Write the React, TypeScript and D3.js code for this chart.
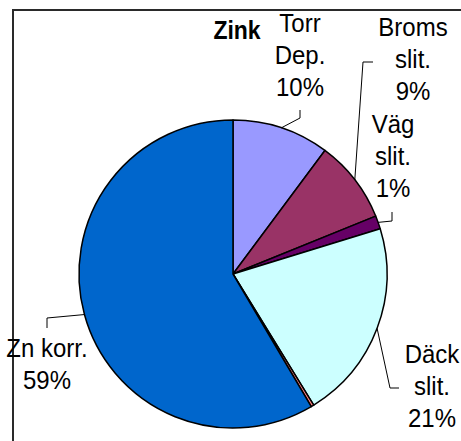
import React, { useEffect, useRef } from 'react';
import * as d3 from 'd3';

// slices clockwise from 12 o'clock
const categories = ['Torr Dep.', 'Broms slit.', 'Väg slit.', 'Däck slit.', 'Övrigt', 'Zn korr.'];
const shares = [10.2, 8.7, 1.4, 21.0, 0.3, 58.6];
const sliceColors = ['#9999FF', '#993366', '#660066', '#CCFFFF', '#FF8080', '#0066CC'];
const labelLines = [
  ['Torr', 'Dep.', '10%'],
  ['Broms', 'slit.', '9%'],
  ['Väg', 'slit.', '1%'],
  ['Däck', 'slit.', '21%'],
  [],
  ['Zn korr.', '59%'],
];

// label layout: text centre x, first baseline y, leader elbow + end
const labelLayout = [
  { x: 300, y: 32, elbow: [300, 118], end: [300, 110] },
  { x: 413, y: 36, elbow: [363, 62], end: [373, 62] },
  { x: 393, y: 133, elbow: [392, 221], end: [392, 212] },
  { x: 432, y: 363, elbow: [390, 388], end: [399, 388] },
  null,
  { x: 47, y: 357, elbow: [47, 318], end: [47, 328] },
];

const App: React.FC = () => {
  const svgRef = useRef<SVGSVGElement>(null);

  useEffect(() => {
    if (!svgRef.current) return;
    const width = 461;
    const height = 441;
    const cx = 233;
    const cy = 274;
    const r = 154;
    const lineH = 32;
    const stretch = 1.1;

    const svg = d3.select(svgRef.current);
    svg.selectAll('*').remove();
    svg.attr('width', width).attr('height', height);

    svg.append('rect').attr('width', width).attr('height', height).attr('fill', '#ffffff');

    // chart frame (clipped at right / bottom)
    svg.append('path')
      .attr('d', `M13,${height + 5} L13,10 L${width + 5},10`)
      .attr('fill', 'none')
      .attr('stroke', '#2a2a2a')
      .attr('stroke-width', 2);

    const data = categories.map((c, i) => ({ cat: c, value: shares[i], i }));

    const pie = d3.pie<{ cat: string; value: number; i: number }>()
      .sort(null)
      .value(d => d.value)
      .startAngle(0)
      .endAngle(2 * Math.PI);

    const arc = d3.arc<d3.PieArcDatum<{ cat: string; value: number; i: number }>>()
      .innerRadius(0)
      .outerRadius(r);

    const arcs = pie(data);

    const g = svg.append('g').attr('transform', `translate(${cx},${cy})`);

    g.selectAll('path.slice')
      .data(arcs)
      .join('path')
      .attr('class', 'slice')
      .attr('d', arc)
      .attr('fill', d => sliceColors[d.data.i])
      .attr('stroke', '#000000')
      .attr('stroke-width', 1.5)
      .attr('stroke-linejoin', 'round');

    // leader lines from slice mid-angle on the rim
    arcs.forEach(a => {
      const lay = labelLayout[a.data.i];
      if (!lay) return;
      const mid = (a.startAngle + a.endAngle) / 2;
      const px = cx + r * Math.sin(mid);
      const py = cy - r * Math.cos(mid);
      svg.append('polyline')
        .attr('points', `${px},${py} ${lay.elbow[0]},${lay.elbow[1]} ${lay.end[0]},${lay.end[1]}`)
        .attr('fill', 'none')
        .attr('stroke', '#000000')
        .attr('stroke-width', 1);
    });

    // labels (source text is slightly stretched vertically)
    labelLines.forEach((lines, i) => {
      const lay = labelLayout[i];
      if (!lay) return;
      lines.forEach((ln, k) => {
        svg.append('text')
          .attr('transform', `translate(${lay.x},${lay.y + k * lineH}) scale(1,${stretch})`)
          .attr('text-anchor', 'middle')
          .attr('font-family', 'Arial, "Liberation Sans", sans-serif')
          .attr('font-size', 24)
          .attr('fill', '#000000')
          .text(ln);
      });
    });

    svg.append('text')
      .attr('transform', `translate(237,39) scale(1,${stretch})`)
      .attr('text-anchor', 'middle')
      .attr('font-family', 'Arial, "Liberation Sans", sans-serif')
      .attr('font-weight', 'bold')
      .attr('font-size', 23)
      .attr('fill', '#000000')
      .text('Zink');
  }, []);

  return (
    <div style={{ position: 'absolute', left: 0, top: 0 }}>
      <svg ref={svgRef} style={{ display: 'block' }} />
    </div>
  );
};

export default App;
